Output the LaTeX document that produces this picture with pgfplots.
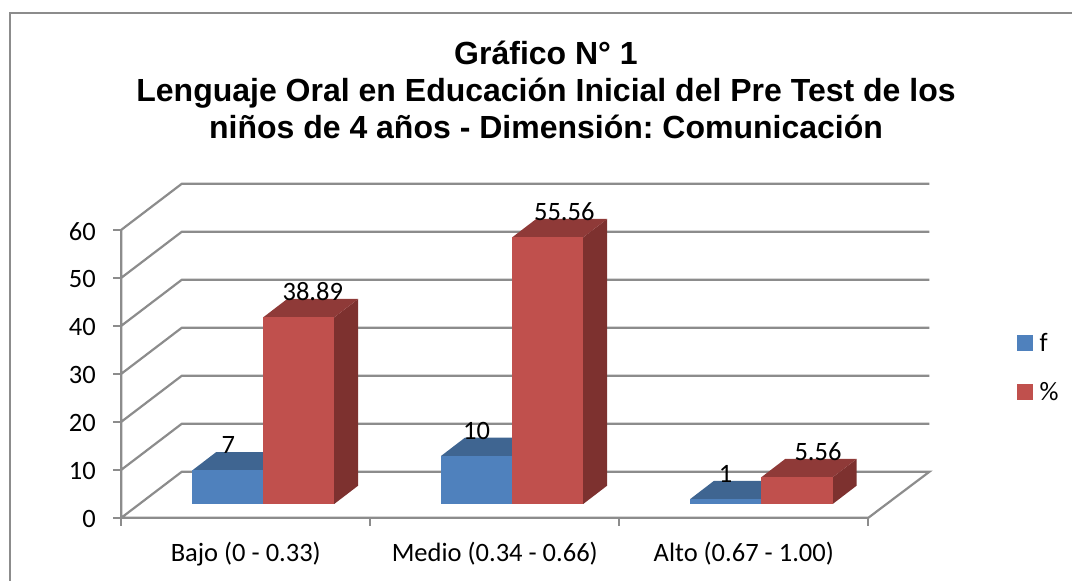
\documentclass[border=0pt]{standalone}
\usepackage{fontspec}
\setmainfont{Carlito}
\newfontfamily\titlefont{Liberation Sans}
\usepackage{pgfplots}
\pgfplotsset{compat=1.18}
\definecolor{gridc}{HTML}{8C8C8C}
\definecolor{blueF}{HTML}{4F81BD}
\definecolor{blueT}{HTML}{3F6591}
\definecolor{blueS}{HTML}{2F4D71}
\definecolor{redF}{HTML}{C0504D}
\definecolor{redT}{HTML}{8F3A38}
\definecolor{redS}{HTML}{7D312F}
% 3-D bar: left x, right x, value, front, top, side colours
\newcommand{\threedbar}[6]{%
  \pgfmathsetmacro\xl{#1}%
  \pgfmathsetmacro\xr{#2}%
  \pgfmathsetmacro\xlb{#1+0.0964}%
  \pgfmathsetmacro\xrb{#2+0.0964}%
  \pgfmathsetmacro\yb{2.875}%
  \pgfmathsetmacro\yt{2.875+#3}%
  \pgfmathsetmacro\ybb{2.875+3.83}%
  \pgfmathsetmacro\ytb{2.875+3.83+#3}%
  \addplot[fill=#6,draw=none,forget plot] coordinates {(\xr,\yb)(\xrb,\ybb)(\xrb,\ytb)(\xr,\yt)} -- cycle;
  \addplot[fill=#5,draw=none,forget plot] coordinates {(\xl,\yt)(\xlb,\ytb)(\xrb,\ytb)(\xr,\yt)} -- cycle;
  \addplot[fill=#4,draw=none,forget plot] coordinates {(\xl,\yb)(\xr,\yb)(\xr,\yt)(\xl,\yt)} -- cycle;
}
\begin{document}
\frenchspacing
\begin{tikzpicture}[x=1pt,y=1pt]
\path[use as bounding box] (0,0) rectangle (1072,581);
\draw[gridc,line width=2pt] (9.5,-5) -- (9.5,568) -- (1080,568);
\node[align=center,font=\titlefont\bfseries\fontsize{32}{37}\selectfont,anchor=center] at (546,491.5)
  {Gráfico N° 1\\Lenguaje Oral en Educación Inicial del Pre Test de los\\niños de 4 años - Dimensión: Comunicación};
\begin{axis}[
  at={(121.3pt,63.2pt)},anchor=south west,
  scale only axis,width=808pt,height=334.5pt,
  xmin=0,xmax=3.245,ymin=0,ymax=69.69,
  clip=false,no marks,
  axis line style={draw=none},
  tick align=outside,
  xtick pos=bottom,ytick pos=left,
  ytick={0,10,20,30,40,50,60},
  xtick={0.5,1.5,2.5},
  xticklabels={Bajo (0 - 0.33),Medio (0.34 - 0.66),Alto (0.67 - 1.00)},
  major x tick style={draw=none},
  major y tick style={gridc,line width=2pt},
  major tick length=8pt,
  extra x ticks={0,1,2,3},
  extra x tick labels={},
  extra x tick style={major tick length=8pt,major x tick style={draw=gridc,line width=2pt}},
  tick label style={font=\fontsize{26.5}{30}\selectfont,/pgf/number format/assume math mode=true},
  yticklabel style={xshift=-14pt,yshift=-1.5pt},
  xticklabel style={yshift=-13pt},
  legend style={draw=none,fill=none,at={(1.1085,0.558)},anchor=north west,inner sep=0pt,
    row sep=25pt,font=\fontsize{26.5}{30}\selectfont},
  legend cell align=left,
]
\addplot[gridc,line width=2.2pt,forget plot] coordinates {
 (0,0)(0,60)

 (0,0)(0.2426,9.58)(3.245,9.58)(3,0)(0,0)

 (0,10)(0.2426,19.58)(3.245,19.58)

 (0,20)(0.2426,29.58)(3.245,29.58)

 (0,30)(0.2426,39.58)(3.245,39.58)

 (0,40)(0.2426,49.58)(3.245,49.58)

 (0,50)(0.2426,59.58)(3.245,59.58)

 (0,60)(0.2426,69.58)(3.245,69.58)
};
\threedbar{0.285}{0.57}{7}{blueF}{blueT}{blueS}
\threedbar{0.57}{0.855}{38.89}{redF}{redT}{redS}
\threedbar{1.284}{1.57}{10}{blueF}{blueT}{blueS}
\threedbar{1.57}{1.855}{55.56}{redF}{redT}{redS}
\threedbar{2.284}{2.57}{1}{blueF}{blueT}{blueS}
\threedbar{2.57}{2.857}{5.56}{redF}{redT}{redS}
\addplot[only marks,mark=none,forget plot,point meta=explicit symbolic,
  nodes near coords,
  nodes near coords style={anchor=base,inner sep=0pt,text=black,font=\fontsize{26.5}{30}\selectfont,yshift=-1.5pt}]
 coordinates {
 (0.43,13.71)[7]
 (0.769,45.6)[38.89]
 (1.427,16.71)[10]
 (1.779,62.26)[55.56]
 (2.427,7.71)[1]
 (2.798,12.26)[5.56]
};
\addlegendimage{legend image code/.code={\fill[blueF] (0pt,-7.5pt) rectangle (15pt,7.5pt);}}
\addlegendentry{\hspace{5pt}f}
\addlegendimage{legend image code/.code={\fill[redF] (0pt,-7.5pt) rectangle (15pt,7.5pt);}}
\addlegendentry{\hspace{5pt}\%}
\end{axis}
\end{tikzpicture}
\end{document}
